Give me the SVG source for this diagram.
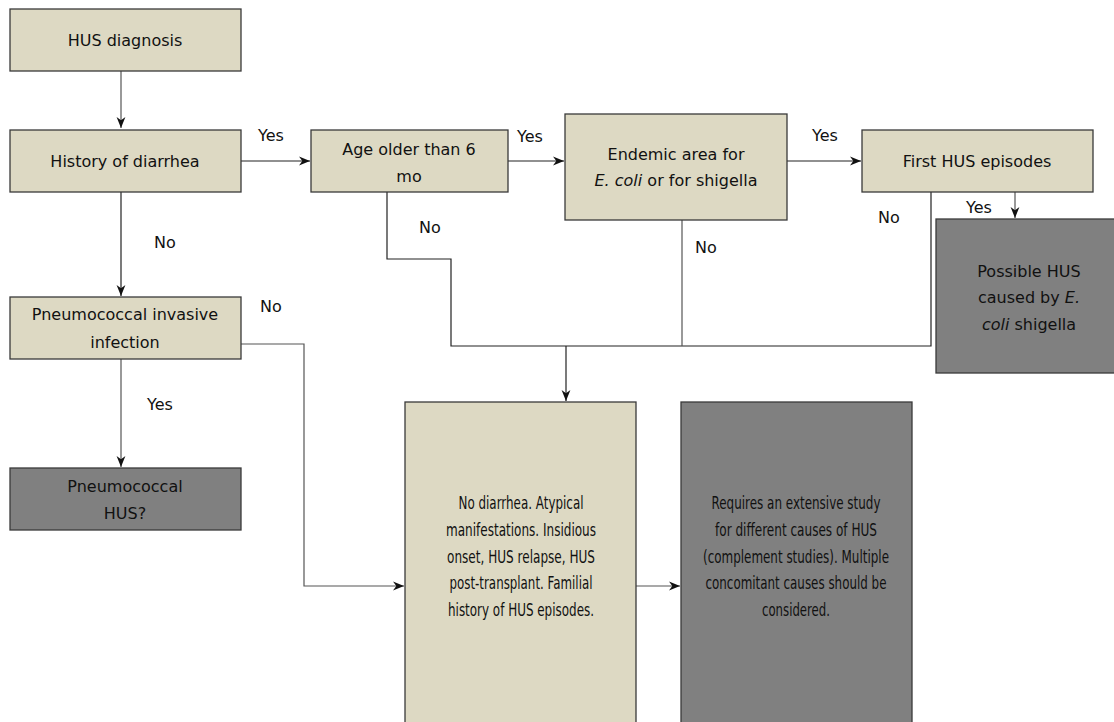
<svg xmlns="http://www.w3.org/2000/svg" width="1114" height="722" viewBox="0 0 1114 722">
<style>
  .box{fill:#ddd9c3;stroke:#3a3a3a;stroke-width:1.3}
  .dark{fill:#808080;stroke:#3a3a3a;stroke-width:1.3}
  text{font-family:"DejaVu Sans","Liberation Sans",sans-serif;font-size:16px;fill:#111;text-anchor:middle}
  .lbl{text-anchor:start}
  .big{font-size:17.5px}
  .c{fill:none;stroke:#222;stroke-width:1.2}
  .c2{fill:none;stroke:#555;stroke-width:1.2}
</style>
<defs>
  <marker id="ah" viewBox="0 0 10 10" refX="10" refY="5" markerWidth="11" markerHeight="11" markerUnits="userSpaceOnUse" orient="auto">
    <path d="M0,1 L10,5 L0,9 L3,5 Z" fill="#111"/>
  </marker>
</defs>
<rect width="1114" height="722" fill="#ffffff"/>

<g id="connectors">
  <path class="c2" d="M121,71 V128" marker-end="url(#ah)"/>
  <path class="c" d="M241,161 H310" marker-end="url(#ah)"/>
  <path class="c" d="M508,161 H564" marker-end="url(#ah)"/>
  <path class="c" d="M787,161 H861" marker-end="url(#ah)"/>
  <path class="c2" d="M1015,192 V218" marker-end="url(#ah)"/>
  <path class="c" d="M387,192 V259 H451 V346 H931 V192"/>
  <path class="c2" d="M682,220 V346"/>
  <path class="c" d="M566,346 V401" marker-end="url(#ah)"/>
  <path class="c" d="M121,192 V296" marker-end="url(#ah)"/>
  <path class="c2" d="M121,359 V467" marker-end="url(#ah)"/>
  <path class="c2" d="M241,344 H304 V586 H404" marker-end="url(#ah)"/>
  <path class="c2" d="M636,586 H680" marker-end="url(#ah)"/>
  <text class="lbl" x="258" y="141">Yes</text>
  <text class="lbl" x="517" y="142">Yes</text>
  <text class="lbl" x="812" y="141">Yes</text>
  <text class="lbl" x="966" y="213">Yes</text>
  <text class="lbl" x="419" y="233">No</text>
  <text class="lbl" x="695" y="253">No</text>
  <text class="lbl" x="878" y="223">No</text>
  <text class="lbl" x="154" y="248">No</text>
  <text class="lbl" x="260" y="312">No</text>
  <text class="lbl" x="147" y="410">Yes</text>
</g>

<g id="n1"><rect class="box" x="10" y="9" width="231" height="62"/><text x="125" y="46">HUS diagnosis</text></g>
<g id="n2"><rect class="box" x="10" y="130" width="231" height="62"/><text x="125" y="167">History of diarrhea</text></g>
<g id="n3"><rect class="box" x="311" y="130" width="197" height="62"/><text x="409" y="155">Age older than 6</text><text x="409" y="182">mo</text></g>
<g id="n4"><rect class="box" x="565" y="114" width="222" height="106"/><text x="676" y="160">Endemic area for</text><text x="676" y="186"><tspan font-style="italic">E. coli</tspan> or for shigella</text></g>
<g id="n5"><rect class="box" x="862" y="130" width="231" height="62"/><text x="977" y="167">First HUS episodes</text></g>
<g id="n6"><rect class="dark" x="936" y="219" width="190" height="154"/><text x="1029" y="277">Possible HUS</text><text x="1029" y="303">caused by <tspan font-style="italic">E.</tspan></text><text x="1029" y="330"><tspan font-style="italic">coli</tspan> shigella</text></g>
<g id="n7"><rect class="box" x="10" y="297" width="231" height="62"/><text x="125" y="320">Pneumococcal invasive</text><text x="125" y="348">infection</text></g>
<g id="n8"><rect class="dark" x="10" y="468" width="231" height="62"/><text x="125" y="492">Pneumococcal</text><text x="125" y="519">HUS?</text></g>
<g id="n9"><rect class="box" x="405" y="402" width="231" height="330"/>
  <text class="big" x="521" y="509" textLength="125" lengthAdjust="spacingAndGlyphs">No diarrhea. Atypical</text>
  <text class="big" x="521" y="536" textLength="150" lengthAdjust="spacingAndGlyphs">manifestations. Insidious</text>
  <text class="big" x="521" y="563" textLength="148" lengthAdjust="spacingAndGlyphs">onset, HUS relapse, HUS</text>
  <text class="big" x="521" y="589" textLength="143" lengthAdjust="spacingAndGlyphs">post-transplant. Familial</text>
  <text class="big" x="521" y="616" textLength="146" lengthAdjust="spacingAndGlyphs">history of HUS episodes.</text>
</g>
<g id="n10"><rect class="dark" x="681" y="402" width="231" height="330"/>
  <text class="big" x="796" y="509" textLength="169" lengthAdjust="spacingAndGlyphs">Requires an extensive study</text>
  <text class="big" x="796" y="536" textLength="162" lengthAdjust="spacingAndGlyphs">for different causes of HUS</text>
  <text class="big" x="796" y="563" textLength="186" lengthAdjust="spacingAndGlyphs">(complement studies). Multiple</text>
  <text class="big" x="796" y="589" textLength="181" lengthAdjust="spacingAndGlyphs">concomitant causes should be</text>
  <text class="big" x="796" y="616" textLength="68" lengthAdjust="spacingAndGlyphs">considered.</text>
</g>
</svg>
